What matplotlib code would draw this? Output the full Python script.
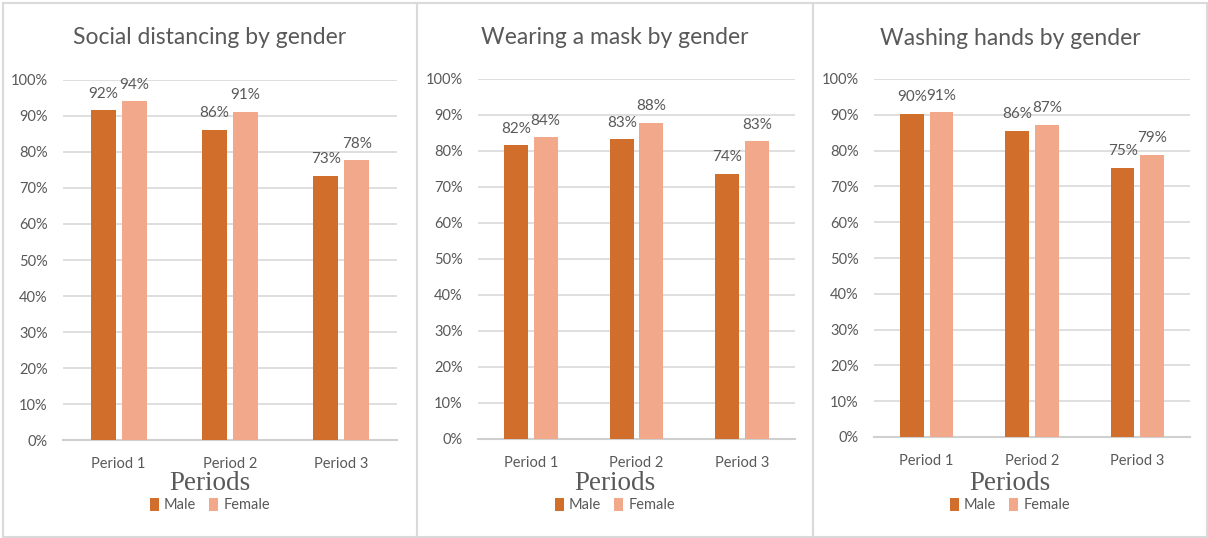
#!/usr/bin/env python
# -*- coding: utf-8 -*-

import numpy as np
import matplotlib
matplotlib.use('Agg')
import matplotlib.pyplot as plt
from matplotlib.patches import Rectangle

# Data
periods = ['Period 1', 'Period 2', 'Period 3']
titles = ['Social distancing by gender', 'Wearing a mask by gender', 'Washing hands by gender']
male_distancing = [0.916, 0.862, 0.733]
female_distancing = [0.941, 0.911, 0.777]
male_mask = [0.816, 0.832, 0.737]
female_mask = [0.838, 0.879, 0.827]
male_hands = [0.902, 0.856, 0.751]
female_hands = [0.907, 0.872, 0.789]

MALE_COLOR = '#D26E2B'
FEMALE_COLOR = '#F1A88B'
TEXT_COLOR = '#595959'
GRID_COLOR = '#D9D9D9'

W, H = 1208, 538


def px_axes(x0, x1, ytop, ybot):
    """Convert pixel box to figure fraction rect."""
    return [x0 / W, (H - ybot) / H, (x1 - x0) / W, (ybot - ytop) / H]


def draw_panel(fig, box, panel, title, male, female):
    x0, x1, ytop, ybot = box
    ax = fig.add_axes(px_axes(x0, x1, ytop, ybot))
    # panel centre expressed in axes coords (title, xlabel and legend sit there)
    pc = ((panel[0] + panel[1]) / 2 - x0) / (x1 - x0)

    def ay(ypix):
        return (ybot - ypix) / (ybot - ytop)

    index = np.arange(len(periods))
    bar_width = 0.225
    offset = 0.14
    m_bars = ax.bar(index - offset, male, width=bar_width, color=MALE_COLOR, label='Male', zorder=3)
    f_bars = ax.bar(index + offset, female, width=bar_width, color=FEMALE_COLOR, label='Female', zorder=3)

    for bars in (m_bars, f_bars):
        for bar in bars:
            h = bar.get_height()
            ax.annotate('{:.0f}%'.format(h * 100), (bar.get_x() + bar.get_width() / 2, h),
                        xytext=(0, 7), textcoords='offset points', ha='center', va='bottom',
                        fontsize=11, color=TEXT_COLOR, family='Lato')

    ax.set_xlim(-0.5, 2.5)
    ax.set_ylim(0, 1.0)
    ax.set_yticks(np.arange(0, 1.01, 0.1))
    ax.set_yticklabels(['{:.0f}%'.format(v * 100) for v in np.arange(0, 1.01, 0.1)])
    ax.set_xticks(index)
    ax.set_xticklabels(periods)
    ax.tick_params(axis='both', length=0, labelsize=10.5, colors=TEXT_COLOR)
    ax.tick_params(axis='y', pad=11)
    ax.tick_params(axis='x', pad=12)
    for lbl in ax.get_xticklabels() + ax.get_yticklabels():
        lbl.set_family('Lato')

    ax.yaxis.grid(True, color=GRID_COLOR, linewidth=1.2, zorder=0)
    ax.set_axisbelow(True)
    for side in ['top', 'right', 'left']:
        ax.spines[side].set_visible(False)
    ax.spines['bottom'].set_color('#D0D0D0')
    ax.spines['bottom'].set_linewidth(1.5)

    ax.text(pc, ay(38), title, transform=ax.transAxes, ha='center', va='center',
            fontsize=16.5, color=TEXT_COLOR, family='Lato')
    ax.text(pc, ay(483), 'Periods', transform=ax.transAxes, ha='center', va='center',
            fontsize=19.5, color=TEXT_COLOR, family='Liberation Serif')
    leg = ax.legend(loc='center', bbox_to_anchor=(pc, ay(505)), ncol=2, frameon=False,
                    handlelength=0.6, handleheight=1.0, handletextpad=0.35, columnspacing=0.9,
                    borderpad=0, prop={'family': 'Lato', 'size': 10.5})
    for t in leg.get_texts():
        t.set_color(TEXT_COLOR)
    return ax


def main():
    fig = plt.figure(figsize=(W / 100, H / 100), dpi=100)
    fig.patch.set_facecolor('white')

    panels = [(3, 417), (417, 813), (813, 1207)]
    # panel borders
    for x0, x1 in panels:
        fig.patches.append(Rectangle((x0 / W, 1 / H), (x1 - x0) / W, (H - 4) / H,
                                     transform=fig.transFigure, fill=False,
                                     edgecolor='#DADADA', linewidth=1.5))

    draw_panel(fig, (63, 397, 80, 440), panels[0], titles[0], male_distancing, female_distancing)
    draw_panel(fig, (478, 795, 79, 439), panels[1], titles[1], male_mask, female_mask)
    draw_panel(fig, (874, 1190, 79, 437), panels[2], titles[2], male_hands, female_hands)

    fig.savefig('out.png', dpi=100)


if __name__ == "__main__":
    main()
